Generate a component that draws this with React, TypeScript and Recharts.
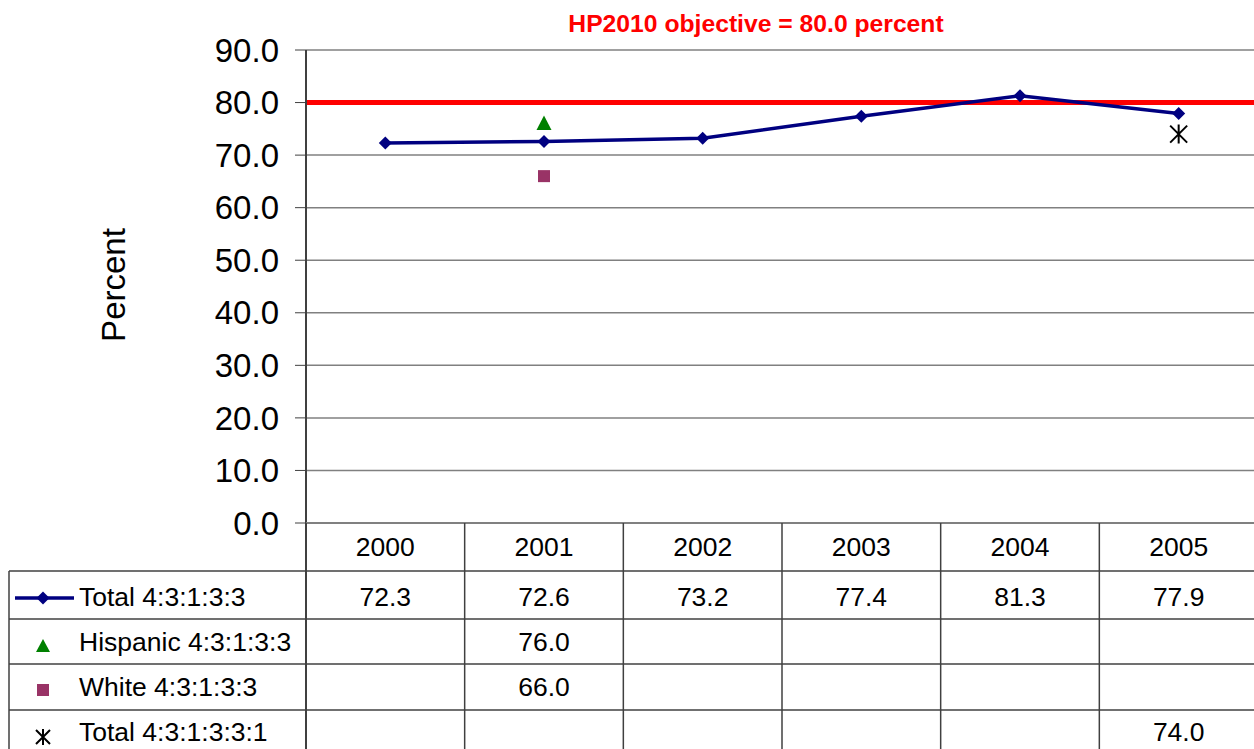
import React from 'react';
import { LineChart, Line, XAxis, YAxis, CartesianGrid, ReferenceLine } from 'recharts';

const years = ['2000', '2001', '2002', '2003', '2004', '2005'];
const totalValues: (number | null)[] = [72.3, 72.6, 73.2, 77.4, 81.3, 77.9];
const hispanicValues: (number | null)[] = [null, 76.0, null, null, null, null];
const whiteValues: (number | null)[] = [null, 66.0, null, null, null, null];
const total2Values: (number | null)[] = [null, null, null, null, null, 74.0];
const yTicks = [0, 10, 20, 30, 40, 50, 60, 70, 80, 90];
const objective = 80;
const seriesNames = ['Total 4:3:1:3:3', 'Hispanic 4:3:1:3:3', 'White 4:3:1:3:3', 'Total 4:3:1:3:3:1'];
const titleText = 'HP2010 objective = 80.0 percent';

const data = years.map((y, i) => ({
  i,
  year: y,
  total: totalValues[i],
  hispanic: hispanicValues[i],
  white: whiteValues[i],
  total2: total2Values[i],
}));

const W = 1254;
const CW = 1258;
const H = 749;
const LEFT = 306;
const TOP = 50;
const BOTTOM = 523;
const FONT = '"Liberation Sans", Arial, sans-serif';

const Diamond = (p: any) => {
  const { cx, cy, value } = p;
  if (value == null || cx == null || cy == null) return <g key={p.key} />;
  const r = 6.5;
  return <path key={p.key} d={`M${cx},${cy - r}L${cx + r},${cy}L${cx},${cy + r}L${cx - r},${cy}Z`} fill="#000080" />;
};
const Triangle = (p: any) => {
  const { cx, cy, value } = p;
  if (value == null || cx == null || cy == null) return <g key={p.key} />;
  return <path key={p.key} d={`M${cx},${cy - 8}L${cx + 7.5},${cy + 6.5}L${cx - 7.5},${cy + 6.5}Z`} fill="#008000" />;
};
const Square = (p: any) => {
  const { cx, cy, value } = p;
  if (value == null || cx == null || cy == null) return <g key={p.key} />;
  return <rect key={p.key} x={cx - 6} y={cy - 6} width={12} height={12} fill="#993366" />;
};
const Star = (p: any) => {
  const { cx, cy, value } = p;
  if (value == null || cx == null || cy == null) return <g key={p.key} />;
  const r = 8.5;
  return (
    <path
      key={p.key}
      d={`M${cx - r},${cy - r}L${cx + r},${cy + r}M${cx + r},${cy - r}L${cx - r},${cy + r}M${cx},${cy - r - 1}L${cx},${cy + r + 1}`}
      stroke="#000"
      strokeWidth={2}
      fill="none"
    />
  );
};

export default function App() {
  const colW = (CW - LEFT) / years.length;
  const rowLines = [571, 619, 664, 710];
  const rowCenters = [597, 642, 687, 732];
  const rowValues = [totalValues, hispanicValues, whiteValues, total2Values];
  const lineColor = '#404040';
  const fs = 26.5;
  return (
    <div style={{ position: 'absolute', left: 0, top: 0, width: W, height: H, overflow: 'hidden', background: '#fff', fontFamily: FONT }}>
      <LineChart
        width={CW}
        height={H}
        data={data}
        margin={{ top: TOP, right: 0, bottom: H - BOTTOM, left: 0 }}
      >
        <CartesianGrid horizontal vertical={false} stroke="#808080" strokeWidth={1.5} />
        <XAxis dataKey="i" type="number" domain={[-0.5, 5.5]} hide />
        <YAxis
          type="number"
          domain={[0, 90]}
          ticks={yTicks}
          width={LEFT}
          interval={0}
          tickFormatter={(v: number) => v.toFixed(1)}
          tickSize={11}
          tickMargin={16}
          axisLine={{ stroke: lineColor, strokeWidth: 2 }}
          tickLine={{ stroke: lineColor, strokeWidth: 1 }}
          tick={{ fill: '#000', fontSize: 33, fontFamily: FONT }}
        />
        <ReferenceLine y={objective} stroke="#ff0000" strokeWidth={5} />
        <Line
          dataKey="total"
          stroke="#000080"
          strokeWidth={3.5}
          dot={Diamond}
          activeDot={false}
          isAnimationActive={false}
        />
        <Line dataKey="hispanic" stroke="none" dot={Triangle} activeDot={false} isAnimationActive={false} />
        <Line dataKey="white" stroke="none" dot={Square} activeDot={false} isAnimationActive={false} />
        <Line dataKey="total2" stroke="none" dot={Star} activeDot={false} isAnimationActive={false} />
      </LineChart>
      <svg
        width={W}
        height={H}
        style={{ position: 'absolute', left: 0, top: 0, pointerEvents: 'none' }}
        fontFamily={FONT}
      >
        <text x={756} y={23} textAnchor="middle" dominantBaseline="central" fill="#ff0000" fontWeight="bold" fontSize={24.7}>
          {titleText}
        </text>
        <text
          x={113}
          y={285}
          textAnchor="middle"
          dominantBaseline="central"
          fontSize={33}
          fill="#000"
          transform="rotate(-90 113 285)"
        >
          Percent
        </text>
        {/* table lines */}
        <line x1={LEFT} y1={BOTTOM} x2={W} y2={BOTTOM} stroke="#808080" strokeWidth={2} />
        {rowLines.map((y) => (
          <line key={y} x1={9} y1={y} x2={W} y2={y} stroke={lineColor} strokeWidth={1.5} />
        ))}
        <line x1={9} y1={571} x2={9} y2={H} stroke={lineColor} strokeWidth={1.5} />
        <line x1={LEFT} y1={BOTTOM} x2={LEFT} y2={H} stroke={lineColor} strokeWidth={2} />
        {years.slice(1).map((_, k) => {
          const x = LEFT + colW * (k + 1);
          return <line key={k} x1={x} y1={BOTTOM} x2={x} y2={H} stroke={lineColor} strokeWidth={1.5} />;
        })}
        {years.map((y, k) => (
          <text key={y} x={LEFT + colW * (k + 0.5)} y={547} textAnchor="middle" dominantBaseline="central" fontSize={fs} fill="#000">
            {y}
          </text>
        ))}
        {rowValues.map((vals, r) =>
          vals.map((v, k) =>
            v == null ? null : (
              <text
                key={`${r}-${k}`}
                x={LEFT + colW * (k + 0.5)}
                y={rowCenters[r]}
                textAnchor="middle"
                dominantBaseline="central"
                fontSize={fs}
                fill="#000"
              >
                {v.toFixed(1)}
              </text>
            )
          )
        )}
        {seriesNames.map((n, r) => (
          <text key={n} x={79} y={rowCenters[r]} dominantBaseline="central" fontSize={fs} fill="#000">
            {n}
          </text>
        ))}
        {/* legend keys */}
        <line x1={15} y1={598} x2={74} y2={598} stroke="#000080" strokeWidth={3.5} />
        <path d="M43,591.5L49.5,598L43,604.5L36.5,598Z" fill="#000080" />
        <path d="M43,639L50,652L36,652Z" fill="#008000" />
        <rect x={37} y={684} width={12} height={12} fill="#993366" />
        <path d="M36,730L50,744M50,730L36,744M43,729L43,745" stroke="#000" strokeWidth={2} />
      </svg>
    </div>
  );
}
